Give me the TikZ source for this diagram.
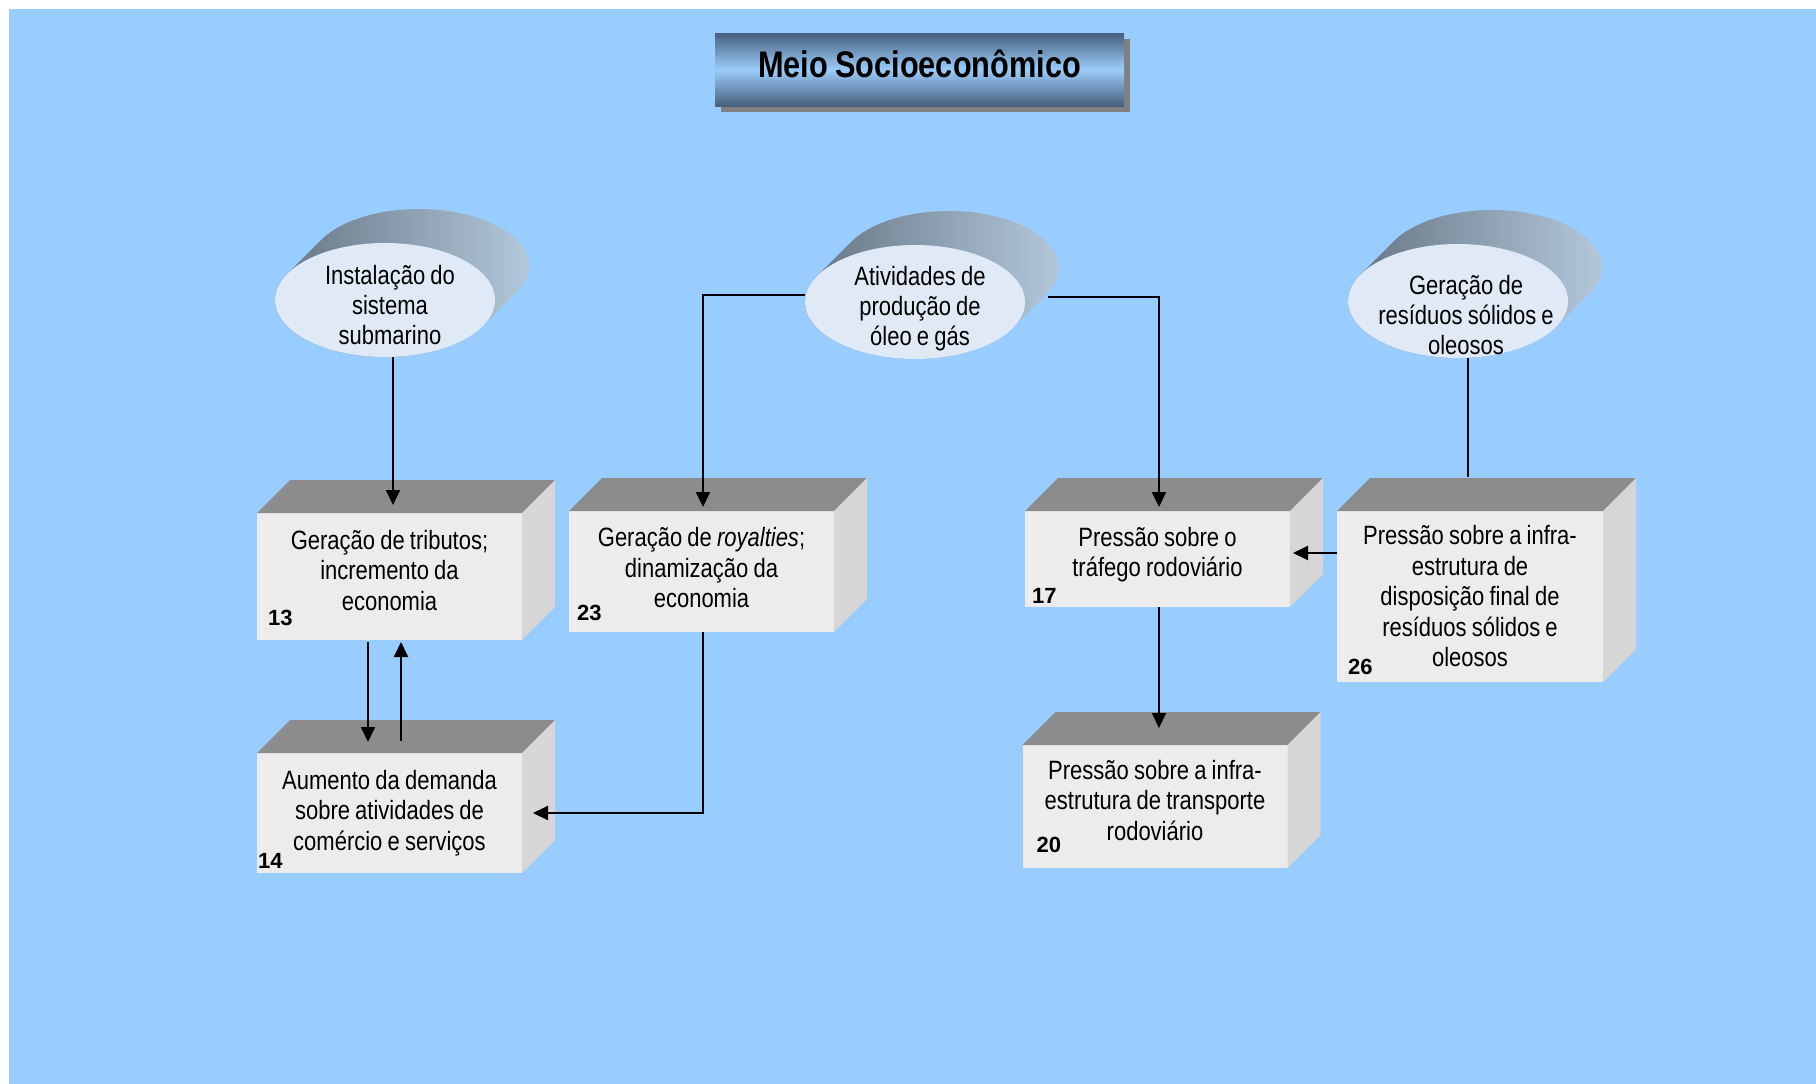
\documentclass[tikz,border=0pt]{standalone}
\usepackage{fontspec}
\setmainfont[FakeStretch=0.83,WordSpace=0.85]{Liberation Sans}
\newfontfamily\numfont{Liberation Sans}
\usetikzlibrary{shapes.geometric,arrows.meta,shadows,positioning}
\definecolor{bgblue}{RGB}{153,204,255}
\definecolor{titledark}{RGB}{70,95,125}
\definecolor{titlelight}{RGB}{155,205,250}
\definecolor{facefront}{RGB}{236,236,236}
\definecolor{facetop}{RGB}{140,140,140}
\definecolor{faceside}{RGB}{214,214,214}
\definecolor{extdark}{RGB}{100,116,132}
\definecolor{extlight}{RGB}{178,200,218}
\definecolor{capfill}{RGB}{224,234,246}

\begin{document}
\begin{tikzpicture}[x=1pt,y=-1pt,
      post/.style={-{Triangle[length=15pt,width=14pt]},line width=2pt},
      link/.style={line width=2pt},
      effect/.style={rectangle,fill=facefront,minimum width=265pt,inner sep=0pt,outer sep=0pt,
        text width=255pt,align=flush center,font=\fontsize{26.5}{30.5}\selectfont},
      lift/.style={execute at end node={\vspace{#1}}},
      cause/.style={ellipse,fill=capfill,minimum width=220pt,minimum height=114pt,inner sep=0pt,outer sep=0pt},
      capt/.style={align=center,inner sep=0pt,font=\fontsize{26.5}{30}\selectfont},
      heading/.style={rectangle,minimum width=409pt,minimum height=73pt,text depth=12pt,
        top color=titledark,bottom color=titledark,middle color=titlelight,
        drop shadow={shadow xshift=6pt,shadow yshift=-6pt,fill=gray,opacity=1},
        font=\bfseries\fontsize{37}{37}\selectfont},
      num/.style={font=\numfont\bfseries\fontsize{22}{22}\selectfont,inner sep=0pt,anchor=base west}
      ]
      \useasboundingbox (0,0) rectangle (1816,1084);
      \fill[bgblue] (9,9) rectangle (1816,1084);

      % extruded discs behind the causes
      \foreach \cx/\cy in {385/300,915/302,1458/301}
        \shade[left color=extdark,right color=extlight]
          \foreach \k in {0,...,34}{(\cx+\k,\cy-\k) ellipse [x radius=110pt,y radius=57pt]};

      \node[cause,label={[capt,shift={(5pt,-5.5pt)}]center:Instalação do\\sistema\\submarino}] (e1) at (385,300) {};
      \node[cause,label={[capt,shift={(5pt,-7pt)}]center:Atividades de\\produção de\\óleo e gás}] (e2) at (915,302) {};
      \node[cause,label={[capt,shift={(8pt,-14pt)}]center:Geração de\\resíduos sólidos e\\oleosos}] (e3) at (1458,301) {};

      \node[effect,lift=12pt,minimum height=127pt] (b13) at (389.5,576.5) {Geração de tributos;\\incremento da\\economia};
      \node[effect,minimum height=120pt,below=113pt of b13] (b14) {Aumento da demanda\\sobre atividades de\\comércio e serviços};
      \node[effect,lift=7pt,minimum height=121pt] (b23) at (701.5,571.5) {Geração de \textit{royalties};\\dinamização da\\economia};
      \node[effect,lift=9pt,minimum height=96pt] (b17) at (1157.5,559) {Pressão sobre o\\tráfego rodoviário};
      \node[effect,lift=12pt,minimum height=123pt,below=138pt of b17,xshift=-2.5pt] (b20) {Pressão sobre a infra-\\estrutura de transporte\\rodoviário};
      \node[effect,minimum height=171pt,minimum width=266pt] (b26) at (1470,596.5) {Pressão sobre a infra-\\estrutura de\\disposição final de\\resíduos sólidos e\\oleosos};

      % top and side faces of the boxes
      \foreach \b in {b13,b14,b23,b17,b20,b26}{
        \fill[facetop] (\b.north west) -- ++(33,-33) -- ([shift={(33pt,33pt)}]\b.north east) -- (\b.north east) -- cycle;
        \fill[faceside] (\b.north east) -- ++(33,-33) -- ([shift={(33pt,33pt)}]\b.south east) -- (\b.south east) -- cycle;
      }

      \node[num] (n13) at ([shift={(11pt,15pt)}]b13.south west) {13};
      \node[num] (n14) at ([shift={(1pt,5pt)}]b14.south west) {14};
      \node[num] (n23) at ([shift={(8pt,12pt)}]b23.south west) {23};
      \node[num] (n17) at ([shift={(7pt,4pt)}]b17.south west) {17};
      \node[num] (n20) at ([shift={(14pt,16pt)}]b20.south west) {20};
      \node[num] (n26) at ([shift={(11pt,8pt)}]b26.south west) {26};

      \draw[post,shorten >=8pt] ([xshift=8pt]e1.south) -- ([xshift=3.5pt]b13.north);
      \draw[post,shorten >=4pt] ([yshift=7pt]e2.west) -| ([xshift=1.5pt]b23.north);
      \draw[post,shorten >=4pt] ([shift={(23pt,5pt)}]e2.east) -| ([xshift=1.5pt]b17.north);
      \draw[link] ([xshift=10pt]e3.south) -- ([shift={(-2pt,34pt)}]b26.north);

      \draw[post,shorten <=2pt,shorten >=11pt] ([xshift=-21.5pt]b13.south) -- ([xshift=-21.5pt]b14.north);
      \draw[post,shorten <=12pt,shorten >=2pt] ([xshift=11.5pt]b14.north) -- ([xshift=11.5pt]b13.south);
      \draw[post] ([xshift=1.5pt]b23.south) |- ([xshift=11pt]b14.east);

      \draw[post] ([yshift=43.5pt]b26.west) -- ([shift={(3pt,6pt)}]b17.east);
      \draw[post,shorten >=17pt] ([xshift=1.5pt]b17.south) -- ([xshift=4pt]b20.north);

      \node[heading] (title) at (919.5,69.5) {Meio Socioeconômico};
    \end{tikzpicture}
\end{document}
